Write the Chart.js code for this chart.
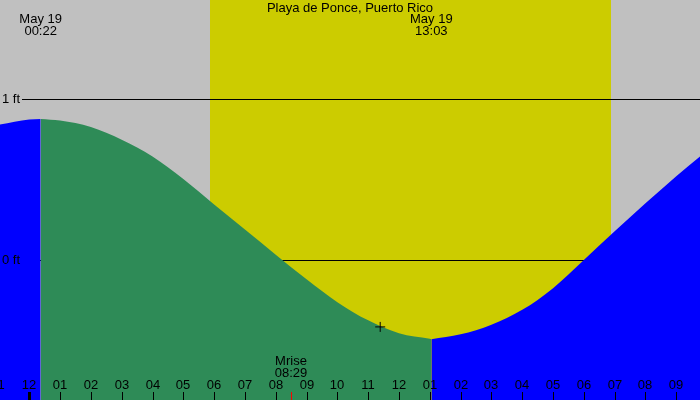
<!DOCTYPE html>
<html>
<head>
<meta charset="utf-8">
<script src="https://cdn.jsdelivr.net/npm/chart.js@4"></script>
<style>
  html, body { margin: 0; padding: 0; background: #c0c0c0; }
  #tide { display: block; }
</style>
</head>
<body>
<canvas id="tide" width="700" height="400"></canvas>
<script>
// tide curve (hours from midnight May 19, feet)
const tideHours = [-1, 0, 0.37, 1, 2, 3, 4, 5, 6, 7, 8, 9, 10, 11, 12, 13, 13.05, 14, 15, 16, 17, 18, 19, 20, 21, 22];
const tideFeet = [0.84, 0.873, 0.876, 0.866, 0.826, 0.747, 0.643, 0.503, 0.345, 0.189, 0.033, -0.12, -0.262, -0.375, -0.455, -0.49, -0.492, -0.462, -0.402, -0.31, -0.175, 0.0, 0.178, 0.352, 0.52, 0.68];

const extremeHours = [0.37, 13.05];
const extremeDates = ['May 19', 'May 19'];
const extremeTimes = ['00:22', '13:03'];

const sunHours = [5.87, 18.88];
const moonriseHour = 8.48;
const moonriseTime = '08:29';

const markerHour = [11.39];
const markerFeet = [-0.416];

const tickHours = [-1, 0, 1, 2, 3, 4, 5, 6, 7, 8, 9, 10, 11, 12, 13, 14, 15, 16, 17, 18, 19, 20, 21];
const tickLabels = ['11', '12', '01', '02', '03', '04', '05', '06', '07', '08', '09', '10', '11', '12', '01', '02', '03', '04', '05', '06', '07', '08', '09'];

const levelFeet = [1, 0];
const levelLabels = ['1 ft', '0 ft'];

const title = 'Playa de Ponce, Puerto Rico';

const FONT = '13px "Liberation Sans", Arial, sans-serif';

function pts(filter) {
  const out = [];
  tideHours.forEach((h, i) => { if (filter(h)) out.push({ x: h, y: tideFeet[i] }); });
  return out;
}

const backdrop = {
  id: 'backdrop',
  beforeDatasetsDraw(chart) {
    const { ctx, scales: { x, y }, width, height } = chart;
    ctx.save();
    ctx.fillStyle = '#c0c0c0';
    ctx.fillRect(0, 0, width, height);
    const s0 = Math.round(x.getPixelForValue(sunHours[0]));
    const s1 = Math.round(x.getPixelForValue(sunHours[1]));
    ctx.fillStyle = '#cccc00';
    ctx.fillRect(s0, 0, s1 - s0, height);
    ctx.strokeStyle = '#000';
    ctx.lineWidth = 1;
    levelFeet.forEach(v => {
      const py = Math.round(y.getPixelForValue(v)) + 0.5;
      ctx.beginPath();
      ctx.moveTo(22, py);
      ctx.lineTo(width, py);
      ctx.stroke();
    });
    ctx.restore();
  },
  afterDatasetsDraw(chart) {
    const { ctx, scales: { x, y }, width } = chart;
    ctx.save();
    ctx.font = FONT;
    ctx.fillStyle = '#000';
    ctx.textBaseline = 'middle';

    ctx.textAlign = 'center';
    ctx.fillText(title, width / 2, 8);

    extremeHours.forEach((h, i) => {
      const px = x.getPixelForValue(h);
      ctx.fillText(extremeDates[i], px, 19.5);
      ctx.fillText(extremeTimes[i], px, 31.5);
    });

    ctx.textAlign = 'left';
    levelFeet.forEach((v, i) => {
      ctx.fillText(levelLabels[i], 2, Math.round(y.getPixelForValue(v)) + 0.5);
    });

    // hour ticks
    ctx.textAlign = 'center';
    tickHours.forEach((h, i) => {
      const px = Math.round(x.getPixelForValue(h));
      ctx.fillStyle = '#000';
      ctx.fillText(tickLabels[i], px, 385.5);
      if (h % 24 === 0) {
        ctx.fillRect(px - 1, 392, 3, 8);
      } else {
        ctx.fillRect(px, 392, 1, 8);
      }
    });

    // moonrise
    const mx = Math.round(x.getPixelForValue(moonriseHour));
    ctx.fillStyle = '#ff0000';
    ctx.fillRect(mx, 392, 1, 8);
    ctx.fillStyle = '#000';
    ctx.fillText('Mrise', mx, 361.5);
    ctx.fillText(moonriseTime, mx, 373.5);
    ctx.restore();
  }
};

new Chart(document.getElementById('tide').getContext('2d'), {
  type: 'line',
  data: {
    datasets: [
      {
        type: 'scatter',
        data: markerHour.map((h, i) => ({ x: h, y: markerFeet[i] })),
        pointStyle: 'cross',
        pointRadius: 5,
        borderColor: '#000',
        borderWidth: 1,
        order: 0
      },
      {
        data: pts(h => h <= extremeHours[0]),
        fill: 'start',
        backgroundColor: '#0000ff',
        borderColor: 'transparent',
        borderWidth: 0,
        pointRadius: 0,
        cubicInterpolationMode: 'monotone',
        order: 1
      },
      {
        data: pts(h => h >= extremeHours[0] && h <= extremeHours[1]),
        fill: 'start',
        backgroundColor: '#2e8b57',
        borderColor: 'transparent',
        borderWidth: 0,
        pointRadius: 0,
        cubicInterpolationMode: 'monotone',
        order: 1
      },
      {
        data: pts(h => h >= extremeHours[1]),
        fill: 'start',
        backgroundColor: '#0000ff',
        borderColor: 'transparent',
        borderWidth: 0,
        pointRadius: 0,
        cubicInterpolationMode: 'monotone',
        order: 1
      }
    ]
  },
  options: {
    responsive: false,
    animation: false,
    devicePixelRatio: 1,
    layout: { padding: 0, autoPadding: false },
    plugins: { legend: { display: false }, tooltip: { enabled: false } },
    scales: {
      x: { type: 'linear', min: -0.95, max: 21.77, display: false },
      y: { type: 'linear', min: -0.87, max: 1.615, display: false }
    }
  },
  plugins: [backdrop]
});
</script>
</body>
</html>
